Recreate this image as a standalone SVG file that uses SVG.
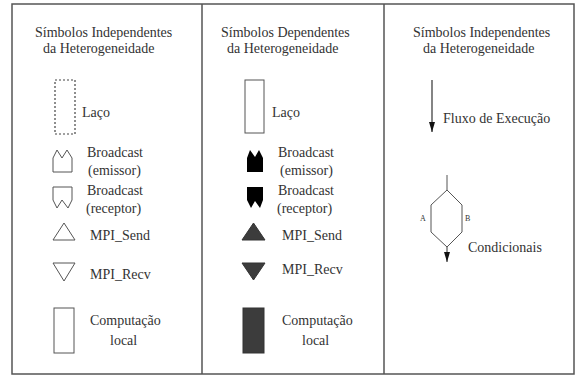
<svg xmlns="http://www.w3.org/2000/svg" width="583" height="376" viewBox="0 0 583 376" font-family="'Liberation Serif', 'DejaVu Serif', 'Times New Roman', serif">
<style>
text{font-family:"Liberation Serif","DejaVu Serif","Times New Roman",serif;font-size:14px;fill:#333}
.small{font-size:8px}
.frame{fill:none;stroke:#555;stroke-width:1.5}
.sym{fill:#fff;stroke:#555;stroke-width:1}
.dark{fill:#3c3c3c;stroke:#333;stroke-width:1}
.blk{fill:#000;stroke:none}
.ln{fill:none;stroke:#555;stroke-width:1}
</style>
<defs>
<marker id="ah" viewBox="0 0 10 6" refX="10" refY="3" markerWidth="10" markerHeight="6" markerUnits="userSpaceOnUse" orient="auto">
<path d="M0,0 L10,3 L0,6 Z" fill="#111"/>
</marker>
</defs>
<rect width="583" height="376" fill="#fff"/>
<g id="frame">
<rect class="frame" x="12" y="4" width="562" height="370"/>
<line class="frame" x1="202" y1="4" x2="202" y2="374"/>
<line class="frame" x1="384" y1="4" x2="384" y2="374"/>
</g>
<g id="col1">
<text x="35" y="37">Símbolos Independentes</text>
<text x="43" y="53">da Heterogeneidade</text>
<g id="c1-laco">
<rect x="55" y="80" width="20" height="54" fill="none" stroke="#444" stroke-width="1.2" stroke-dasharray="2,2"/>
<text x="82" y="117">Laço</text>
</g>
<g id="c1-bcast-em">
<path class="sym" d="M53,172 L53,158 L57,150 L62,158 L67,150 L72,158 L72,172 Z"/>
<text x="87" y="157">Broadcast</text>
<text x="88" y="175">(emissor)</text>
</g>
<g id="c1-bcast-rc">
<path class="sym" d="M53,187 L72,187 L72,200 L68,208 L62,200 L57,208 L53,200 Z"/>
<text x="87" y="195">Broadcast</text>
<text x="86" y="213">(receptor)</text>
</g>
<g id="c1-send">
<path class="sym" d="M64,223 L75,240 L53,240 Z"/>
<text x="90" y="240">MPI_Send</text>
</g>
<g id="c1-recv">
<path class="sym" d="M53,263 L75,263 L64,281 Z"/>
<text x="90" y="279">MPI_Recv</text>
</g>
<g id="c1-comp">
<rect class="sym" x="54" y="308" width="20" height="45"/>
<text x="90" y="325">Computação</text>
<text x="110" y="345">local</text>
</g>
</g>
<g id="col2">
<text x="221" y="37">Símbolos Dependentes</text>
<text x="227" y="53">da Heterogeneidade</text>
<g id="c2-laco">
<rect class="sym" x="245" y="80" width="19" height="53"/>
<text x="272" y="117">Laço</text>
</g>
<g id="c2-bcast-em">
<path class="blk" d="M247,172 L247,158 L250,150 L255,157 L259,150 L263,158 L263,172 Z"/>
<text x="278" y="157">Broadcast</text>
<text x="280" y="175">(emissor)</text>
</g>
<g id="c2-bcast-rc">
<path class="blk" d="M247,187 L263,187 L263,200 L260,208 L255,201 L251,208 L247,200 Z"/>
<text x="278" y="195">Broadcast</text>
<text x="277" y="213">(receptor)</text>
</g>
<g id="c2-send">
<path class="dark" d="M253.5,223 L265,240 L242,240 Z"/>
<text x="282" y="240">MPI_Send</text>
</g>
<g id="c2-recv">
<path class="dark" d="M242,263 L265,263 L253.5,280 Z"/>
<text x="282" y="274">MPI_Recv</text>
</g>
<g id="c2-comp">
<rect class="dark" x="243" y="308" width="21" height="45"/>
<text x="282" y="325">Computação</text>
<text x="302" y="345">local</text>
</g>
</g>
<g id="col3">
<text x="413" y="37">Símbolos Independentes</text>
<text x="423" y="53">da Heterogeneidade</text>
<g id="c3-fluxo">
<text x="443" y="123">Fluxo de Execução</text>
</g>
<g id="c3-cond">
<path class="ln" d="M447,190 L462,205 L462,232 L447,247 L431,232 L431,205 Z"/>
<text class="small" x="420" y="221">A</text>
<text class="small" x="465" y="221">B</text>
<text x="468" y="252">Condicionais</text>
</g>
</g>
<g id="connectors">
<line x1="432" y1="80" x2="432" y2="132" stroke="#333" stroke-width="1.2" marker-end="url(#ah)"/>
<line x1="447" y1="175" x2="447" y2="190" stroke="#555" stroke-width="1"/>
<line x1="447" y1="247" x2="447" y2="262" stroke="#333" stroke-width="1" marker-end="url(#ah)"/>
</g>
</svg>
